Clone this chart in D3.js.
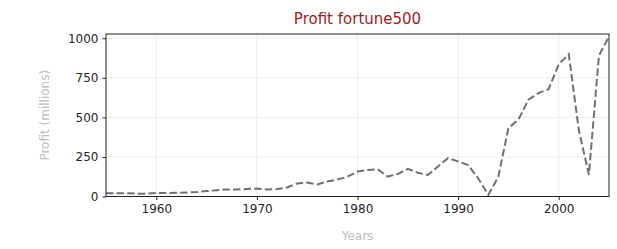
<!DOCTYPE html>
<html>
<head>
<meta charset="utf-8">
<script src="https://cdn.jsdelivr.net/npm/d3@7"></script>
<style>
  body { margin: 0; background: #fff; }
  text { font-family: "DejaVu Sans", sans-serif; }
</style>
</head>
<body>
<script>
// données
const annees = d3.range(1955, 2006);
const profits = [
  20, 21, 21, 18, 18, 22, 22, 23, 25, 28,
  34, 40, 44, 45, 47, 50, 44, 47, 57, 82,
  88, 76, 95, 107, 125, 158, 168, 172, 126, 142,
  175, 150, 136, 190, 242, 222, 198, 115, 10, 125,
  432, 486, 612, 655, 678, 835, 900, 420, 138, 890,
  1012
];
const ticksX = [1960, 1970, 1980, 1990, 2000];
const ticksY = [0, 250, 500, 750, 1000];

const largeur = 617, hauteur = 249;
const marge = { haut: 34, droite: 8, bas: 52.5, gauche: 106 };

const svg = d3.select("body").append("svg")
  .attr("width", largeur)
  .attr("height", hauteur);

const x = d3.scaleLinear()
  .domain([1955, 2005])
  .range([marge.gauche, largeur - marge.droite]);

const y = d3.scaleLinear()
  .domain([0, 1027])
  .range([hauteur - marge.bas, marge.haut]);

// grille
svg.append("g")
  .selectAll("line.gx")
  .data(ticksX)
  .join("line")
  .attr("x1", d => x(d)).attr("x2", d => x(d))
  .attr("y1", marge.haut).attr("y2", hauteur - marge.bas)
  .attr("stroke", "#ebebeb").attr("stroke-width", 1);

svg.append("g")
  .selectAll("line.gy")
  .data(ticksY)
  .join("line")
  .attr("x1", marge.gauche).attr("x2", largeur - marge.droite)
  .attr("y1", d => y(d)).attr("y2", d => y(d))
  .attr("stroke", "#ebebeb").attr("stroke-width", 1);

// la courbe
const ligne = d3.line()
  .x((d, i) => x(annees[i]))
  .y(d => y(d));

svg.append("path")
  .datum(profits)
  .attr("d", ligne)
  .attr("fill", "none")
  .attr("stroke", "#707070")
  .attr("stroke-width", 2)
  .attr("stroke-dasharray", "7.4,3.2");

// axes
const axeX = svg.append("g")
  .attr("transform", `translate(0,${hauteur - marge.bas})`)
  .call(d3.axisBottom(x).tickValues(ticksX).tickFormat(d3.format("d")).tickSizeOuter(0).tickSize(3.5).tickPadding(4));

const axeY = svg.append("g")
  .attr("transform", `translate(${marge.gauche},0)`)
  .call(d3.axisLeft(y).tickValues(ticksY).tickFormat(d3.format("d")).tickSizeOuter(0).tickSize(3.5).tickPadding(4));

[axeX, axeY].forEach(a => {
  a.select(".domain").remove();
  a.selectAll("line").attr("stroke", "#222");
  a.selectAll("text")
    .attr("fill", "#262626")
    .style("font-size", "12px")
    .style("font-family", "DejaVu Sans, sans-serif");
});

// cadre
svg.append("rect")
  .attr("x", marge.gauche)
  .attr("y", marge.haut)
  .attr("width", largeur - marge.droite - marge.gauche)
  .attr("height", hauteur - marge.bas - marge.haut)
  .attr("fill", "none")
  .attr("stroke", "#222")
  .attr("stroke-width", 1);

// titres
svg.append("text")
  .attr("x", (marge.gauche + largeur - marge.droite) / 2)
  .attr("y", 24)
  .attr("text-anchor", "middle")
  .style("font-size", "15px")
  .attr("fill", "#a31c1c")
  .text("Profit fortune500");

svg.append("text")
  .attr("x", (marge.gauche + largeur - marge.droite) / 2)
  .attr("y", 240)
  .attr("text-anchor", "middle")
  .style("font-size", "12px")
  .attr("fill", "#bdbdbd")
  .text("Years");

svg.append("text")
  .attr("transform", `translate(49,${(marge.haut + hauteur - marge.bas) / 2}) rotate(-90)`)
  .attr("text-anchor", "middle")
  .style("font-size", "12px")
  .attr("fill", "#bdbdbd")
  .text("Profit (millions)");
</script>
</body>
</html>
